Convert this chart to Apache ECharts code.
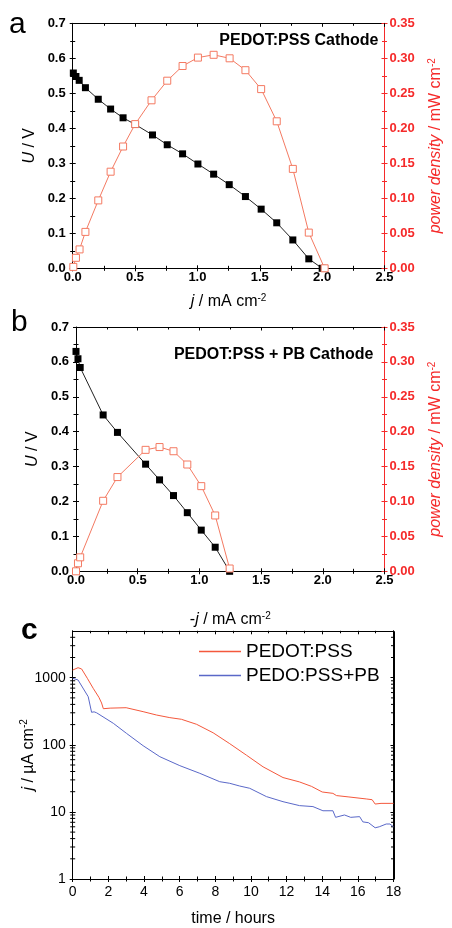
<!DOCTYPE html>
<html><head><meta charset="utf-8">
<script src="https://cdn.jsdelivr.net/npm/echarts@6/dist/echarts.min.js"></script>
<style>html,body{margin:0;padding:0;background:#fff}#c{width:452px;height:928px}</style>
</head><body><div id="c"></div>
<script>
// ---------- Panel a : PEDOT:PSS cathode ----------
const aVoltJ = [0.005, 0.026, 0.052, 0.102, 0.205, 0.304, 0.404, 0.501, 0.640, 0.758, 0.881, 1.004, 1.130, 1.255, 1.385, 1.511, 1.636, 1.765, 1.893, 2.0];
const aVolt  = [0.558, 0.548, 0.537, 0.516, 0.483, 0.455, 0.430, 0.411, 0.381, 0.353, 0.327, 0.298, 0.269, 0.239, 0.205, 0.169, 0.130, 0.081, 0.027, 0.0];
const aPowJ  = [0.005, 0.026, 0.055, 0.102, 0.205, 0.304, 0.404, 0.501, 0.632, 0.758, 0.881, 1.004, 1.130, 1.258, 1.385, 1.511, 1.636, 1.765, 1.893, 2.02];
const aPow   = [0.002, 0.015, 0.027, 0.052, 0.097, 0.138, 0.174, 0.206, 0.240, 0.268, 0.289, 0.301, 0.305, 0.300, 0.283, 0.256, 0.210, 0.142, 0.051, 0.0];
// ---------- Panel b : PEDOT:PSS + PB cathode ----------
const bVoltJ = [0.0, 0.016, 0.034, 0.220, 0.336, 0.564, 0.677, 0.790, 0.902, 1.015, 1.128, 1.245];
const bVolt  = [0.630, 0.609, 0.584, 0.448, 0.398, 0.307, 0.262, 0.217, 0.168, 0.118, 0.069, 0.0];
const bPowJ  = [0.0, 0.016, 0.034, 0.220, 0.336, 0.564, 0.677, 0.790, 0.902, 1.015, 1.128, 1.245];
const bPow   = [0.0, 0.0115, 0.020, 0.101, 0.135, 0.174, 0.178, 0.172, 0.153, 0.122, 0.080, 0.004];
// ---------- Panel c : current vs time ----------
const cTimeRed = [0.0, 0.3, 0.5, 0.82, 1.15, 1.47, 1.62, 1.72, 1.8, 2.1, 3.0, 3.95, 4.7, 5.45, 6.1, 6.95, 7.88, 8.81, 9.75, 10.68, 11.8, 12.72, 13.4, 14.0, 14.6, 14.8, 14.9, 15.5, 16.47, 16.8, 16.97, 17.3, 18.0];
const cRed     = [1300, 1410, 1350, 980, 695, 510, 420, 345, 360, 352, 357, 312, 278, 254, 240, 202, 151, 104, 70, 47, 32.5, 28, 24, 19.8, 18.9, 17.5, 16.9, 16.7, 15.6, 15.2, 13.1, 13.4, 13.4];
const cTimeBlue = [0.0, 0.3, 0.87, 1.06, 1.2, 1.34, 2.28, 3.02, 3.95, 4.89, 6.01, 7.13, 8.25, 8.81, 9.37, 9.93, 10.87, 11.8, 12.73, 13.48, 14.04, 14.6, 14.75, 15.25, 15.6, 16.1, 16.28, 16.6, 16.97, 17.2, 17.59, 17.8, 18.0];
const cBlue     = [980, 925, 521, 305, 310, 300, 209, 148, 97, 66.5, 48.9, 37.6, 28.2, 26.7, 24.3, 22.5, 16.9, 14.2, 12.4, 12, 10.4, 10.4, 8.3, 9.0, 8.3, 8.5, 7.1, 6.9, 5.8, 6.0, 6.6, 6.6, 6.0];
const cMinorTicks = [2,3,4,5,6,7,8,9,20,30,40,50,60,70,80,90,200,300,400,500,600,700,800,900,2000,3000,4000];
const cFrameCorners = [[0, 5000], [18, 5000], [18, 1]];
const seriesNames = ['PEDOT:PSS', 'PEDO:PSS+PB'];
const panelLetters = ['a', 'b', 'c'];
const panelTitles = ['PEDOT:PSS Cathode', 'PEDOT:PSS + PB Cathode'];

const FONT = '"Liberation Sans", Arial, Helvetica, sans-serif';
const BLACK = '#000';
const RED_AXIS = '#f52a2a';
const RED_LINE = '#f47a62';
const C_RED = '#f4583c';
const C_BLUE = '#5a68c8';
const zip = (x, y) => x.map((v, i) => [v, y[i]]);

const grids = [
  {left: 72.7, top: 23.3, width: 317.6, height: 245},
  {left: 76, top: 327, width: 317.5, height: 244.3},
  {left: 72.7, top: 630.8, width: 320.8, height: 248.2}
];

const xAxis = [], yAxis = [];
const richBase = (color) => ({
  i: {fontStyle: 'italic', fontSize: 16, fontFamily: FONT, color},
  n: {fontSize: 16, fontFamily: FONT, color},
  sup: {fontSize: 10, fontFamily: FONT, color, verticalAlign: 'top', padding: [0, 0, 7, 0]}
});

function addX(gi, o) {
  const common = {gridIndex: gi, type: 'value', min: o.min, max: o.max, interval: o.interval,
    splitLine: {show: false}, nameMoveOverlap: false};
  const main = Object.assign({}, common, {position: 'bottom',
    axisLine: {show: true, onZero: false, lineStyle: {color: BLACK, width: 1}},
    axisTick: {show: true, inside: false, length: 3, lineStyle: {color: BLACK}},
    minorTick: {show: true, splitNumber: o.minor, length: 2.5, lineStyle: {color: BLACK}},
    axisLabel: {show: true, margin: o.margin, fontSize: o.fs, fontWeight: o.fw, fontFamily: FONT, color: BLACK, formatter: o.fmt},
    name: o.name, nameLocation: 'middle', nameGap: o.nameGap, nameTextStyle: {rich: richBase(BLACK), fontSize: 16, fontFamily: FONT, color: BLACK}});
  const inner = Object.assign({}, common, {position: 'bottom', axisLine: {show: false, onZero: false},
    axisTick: {show: true, inside: true, length: 3, lineStyle: {color: BLACK}},
    minorTick: {show: true, splitNumber: o.minor, length: 2.5, lineStyle: {color: BLACK}},
    axisLabel: {show: false}});
  const top = Object.assign({}, common, {position: 'top',
    axisLine: {show: true, onZero: false, lineStyle: {color: BLACK, width: 1}},
    axisTick: {show: true, inside: true, length: 3.5, lineStyle: {color: BLACK}},
    minorTick: {show: true, splitNumber: o.minor, length: 2.5, lineStyle: {color: BLACK}},
    axisLabel: {show: false}});
  const idx = xAxis.length;
  xAxis.push(main, inner, top);
  return idx;
}

function addY(gi, o) {
  const common = {gridIndex: gi, type: o.type || 'value', min: o.min, max: o.max, interval: o.interval, position: o.pos,
    splitLine: {show: false}, nameMoveOverlap: false};
  if (o.type === 'log') common.logBase = 10;
  const main = Object.assign({}, common, {
    axisLine: {show: true, onZero: false, lineStyle: {color: o.color, width: 1}},
    axisTick: {show: true, inside: !!o.insideOnly, length: 3, lineStyle: {color: o.color}},
    minorTick: {show: !!o.minor, splitNumber: o.minor || 2, length: 2.5, lineStyle: {color: o.color}},
    axisLabel: {show: o.labels !== false, margin: o.margin, fontSize: o.fs, fontWeight: o.fw, fontFamily: FONT, color: o.color, formatter: o.fmt, showMaxLabel: o.showMax !== false},
    name: o.name || '', nameLocation: 'middle', nameGap: o.nameGap, nameRotate: 90,
    nameTextStyle: {rich: richBase(o.color), fontSize: 16, fontFamily: FONT, color: o.color}});
  const idx = yAxis.length;
  yAxis.push(main);
  if (!o.insideOnly) {
    yAxis.push(Object.assign({}, common, {axisLine: {show: false, onZero: false},
      axisTick: {show: true, inside: true, length: 3, lineStyle: {color: o.color}},
      minorTick: {show: !!o.minor, splitNumber: o.minor || 2, length: 2.5, lineStyle: {color: o.color}},
      axisLabel: {show: false}}));
  }
  return idx;
}

const series = [];
const graphic = [];

// panels a and b
[[aVoltJ, aVolt, aPowJ, aPow], [bVoltJ, bVolt, bPowJ, bPow]].forEach((d, gi) => {
  const xi = addX(gi, {min: 0, max: 2.5, interval: 0.5, minor: 2, margin: 3, fs: 13, fw: 'bold',
    fmt: v => v.toFixed(1), nameGap: gi === 0 ? 25 : 40,
    name: gi === 0 ? '{i|j}{n| / mA cm}{sup|-2}' : '{n|-}{i|j}{n| / mA cm}{sup|-2}'});
  const yl = addY(gi, {pos: 'left', min: 0, max: 0.7, interval: 0.1, minor: 2, color: BLACK, margin: 7, fs: 13, fw: 'bold',
    fmt: v => v.toFixed(1), name: '{i|U}{n| / V}', nameGap: 35});
  const yr = addY(gi, {pos: 'right', min: 0, max: 0.35, interval: 0.05, minor: 2, color: RED_AXIS, margin: 5, fs: 13, fw: 'bold',
    fmt: v => v.toFixed(2), name: '{i|power density}{n| / mW cm}{sup|-2}', nameGap: 43});
  series.push({type: 'line', xAxisIndex: xi, yAxisIndex: yl, data: zip(d[0], d[1]), symbol: 'rect', symbolSize: 7,
    clip: false, itemStyle: {color: BLACK}, lineStyle: {color: '#222', width: 1}, z: 3});
  series.push({type: 'line', xAxisIndex: xi, yAxisIndex: yr, data: zip(d[2], d[3]), symbol: 'rect', symbolSize: 7,
    clip: false, itemStyle: {color: '#fff', borderColor: RED_LINE, borderWidth: 1}, lineStyle: {color: RED_LINE, width: 1}, z: 4});
});

// panel c
const cx = addX(2, {min: 0, max: 18, interval: 2, minor: 2, margin: 6, fs: 14, fw: 'normal', fmt: v => String(v),
  name: '{n|time / hours}', nameGap: 32});
const cy = addY(2, {type: 'log', pos: 'left', min: 1, max: 5000, interval: 1, color: BLACK, margin: 7, fs: 14, fw: 'normal',
  fmt: v => String(Math.round(v)), showMax: false, name: '{i|j}{n| / µA cm}{sup|-2}', nameGap: 36});
const cyr = addY(2, {type: 'log', pos: 'right', min: 1, max: 5000, interval: 1, color: BLACK, labels: false, insideOnly: true});
series.push({name: seriesNames[0], type: 'line', xAxisIndex: cx, yAxisIndex: cy, data: zip(cTimeRed, cRed), symbol: 'none',
  lineStyle: {color: C_RED, width: 1}, itemStyle: {color: C_RED}});
series.push({name: seriesNames[1], type: 'line', xAxisIndex: cx, yAxisIndex: cy, data: zip(cTimeBlue, cBlue), symbol: 'none',
  lineStyle: {color: C_BLUE, width: 1}, itemStyle: {color: C_BLUE}});
series.push({type: 'custom', xAxisIndex: cx, yAxisIndex: cy, silent: true, clip: false,
  data: cMinorTicks.map(v => [0, v]),
  renderItem: (params, api) => {
    const v = api.value(1);
    const pl = api.coord([0, v]);
    const pr = api.coord([18, v]);
    return {type: 'group', children: [
      {type: 'line', shape: {x1: pl[0] - 2.5, y1: pl[1], x2: pl[0] + 2.5, y2: pl[1]}, style: {stroke: BLACK, lineWidth: 1}},
      {type: 'line', shape: {x1: pr[0] - 2.5, y1: pr[1], x2: pr[0], y2: pr[1]}, style: {stroke: BLACK, lineWidth: 1}}
    ]};
  }});

// texts
const letterPos = [[9, 25, 'normal'], [11, 322.8, 'normal'], [21, 631, 'bold']];
panelLetters.forEach((t, i) => graphic.push({type: 'text', x: letterPos[i][0], y: letterPos[i][1],
  style: {text: t, fontSize: 30, fontWeight: letterPos[i][2], fontFamily: FONT, fill: BLACK, verticalAlign: 'middle', align: 'left'}}));
const titlePos = [[378.5, 41], [373.5, 354.5]];
panelTitles.forEach((t, i) => graphic.push({type: 'text', x: titlePos[i][0], y: titlePos[i][1],
  style: {text: t, fontSize: 16, fontWeight: 'bold', fontFamily: FONT, fill: BLACK, verticalAlign: 'middle', align: 'right'}}));

const chart = echarts.init(document.getElementById('c'), null, {renderer: 'canvas'});
chart.setOption({
  backgroundColor: '#fff',
  animation: false,
  grid: grids,
  xAxis, yAxis, series, graphic,
  legend: {data: seriesNames.map(n => ({name: n, icon: 'rect'})), orient: 'vertical', left: 194, top: 637,
    itemWidth: 42, itemHeight: 1.3, itemGap: 5,
    textStyle: {fontSize: 19, fontFamily: FONT, color: BLACK, lineHeight: 19}, selectedMode: false}
});
// frame edges of panel c, positioned through the chart's own scales
const framePts = cFrameCorners.map(p => chart.convertToPixel({xAxisIndex: cx, yAxisIndex: cy}, p));
chart.setOption({graphic: graphic.concat([{type: 'polyline', z: 100, silent: true,
  shape: {points: framePts.map(p => [Math.round(p[0]) + 0.5, Math.round(p[1]) + 0.5])},
  style: {stroke: BLACK, lineWidth: 1, fill: null}}])});
</script></body></html>
